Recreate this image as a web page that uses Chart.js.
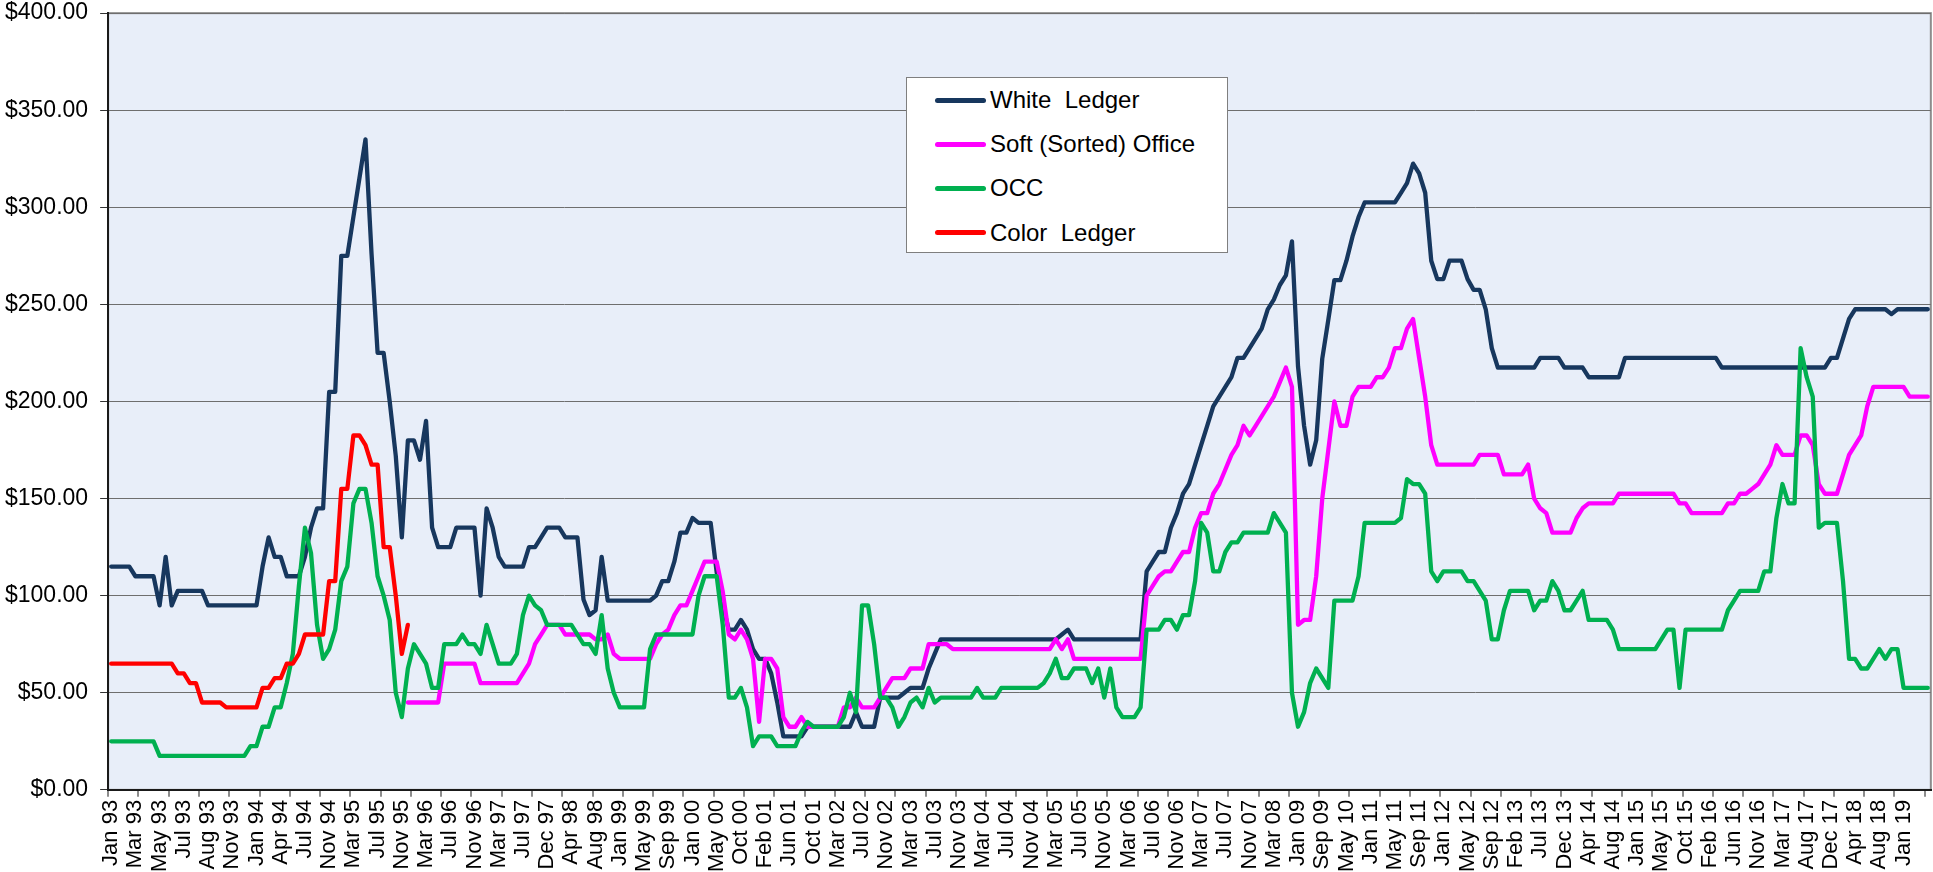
<!DOCTYPE html>
<html>
<head>
<meta charset="utf-8">
<title>Recovered paper prices</title>
<script src="https://cdn.jsdelivr.net/npm/chart.js@4.4.0/dist/chart.umd.min.js"></script>
<style>
  html, body { margin: 0; padding: 0; background: #fff; }
  #wrap { position: relative; width: 1933px; height: 872px; }
  #chart { display: block; }
  #legend {
    position: absolute; left: 906px; top: 77px; width: 320px; height: 174px;
    background: #fff; border: 1px solid #7f7f7f;
    font-family: 'Liberation Sans', Arial, sans-serif; font-size: 24px; color: #000;
  }
  .item { position: absolute; left: 28px; height: 26px; display: flex; align-items: center; white-space: pre; }
  .swatch { width: 51px; height: 5px; border-radius: 3px; margin-right: 4px; }
</style>
</head>
<body>
<div id="wrap">
  <canvas id="chart" width="1933" height="872"></canvas>
  <div id="legend"></div>
</div>
<script>
// category labels shown on the x axis (one every 4 data points)
const xLabels = [
  'Jan 93', 'Mar 93', 'May 93', 'Jul 93', 'Aug 93', 'Nov 93', 'Jan 94', 'Apr 94', 'Jul 94', 'Nov 94',
  'Mar 95', 'Jul 95', 'Nov 95', 'Mar 96', 'Jul 96', 'Nov 96', 'Mar 97', 'Jul 97', 'Dec 97', 'Apr 98',
  'Aug 98', 'Jan 99', 'May 99', 'Sep 99', 'Jan 00', 'May 00', 'Oct 00', 'Feb 01', 'Jun 01', 'Oct 01',
  'Mar 02', 'Jul 02', 'Nov 02', 'Mar 03', 'Jul 03', 'Nov 03', 'Mar 04', 'Jul 04', 'Nov 04', 'Mar 05',
  'Jul 05', 'Nov 05', 'Mar 06', 'Jul 06', 'Nov 06', 'Mar 07', 'Jul 07', 'Nov 07', 'Mar 08', 'Jan 09',
  'Sep 09', 'May 10', 'Jan 11', 'May 11', 'Sep 11', 'Jan 12', 'May 12', 'Sep 12', 'Feb 13', 'Jul 13',
  'Dec 13', 'Apr 14', 'Aug 14', 'Jan 15', 'May 15', 'Oct 15', 'Feb 16', 'Jun 16', 'Nov 16', 'Mar 17',
  'Aug 17', 'Dec 17', 'Apr 18', 'Aug 18', 'Jan 19'
];

const whiteLedger = [
  115, 115, 115, 115, 110, 110, 110, 110, 95, 120,
  95, 102.5, 102.5, 102.5, 102.5, 102.5, 95, 95, 95, 95,
  95, 95, 95, 95, 95, 115, 130, 120, 120, 110,
  110, 110, 120, 135, 145, 145, 205, 205, 275, 275,
  295, 315, 335, 276, 225, 225, 200, 172, 130, 180,
  180, 170, 190, 135, 125, 125, 125, 135, 135, 135,
  135, 100, 145, 135, 120, 115, 115, 115, 115, 125,
  125, 130, 135, 135, 135, 130, 130, 130, 98, 90,
  92.5, 120, 97.5, 97.5, 97.5, 97.5, 97.5, 97.5, 97.5, 97.5,
  100, 107.5, 107.5, 117.5, 132.5, 132.5, 140, 137.5, 137.5, 137.5,
  112, 95, 82.5, 82.5, 87.5, 82.5, 72.5, 67.5, 67.5, 60,
  45, 27.5, 27.5, 27.5, 27.5, 32.5, 32.5, 32.5, 32.5, 32.5,
  32.5, 32.5, 32.5, 40, 32.5, 32.5, 32.5, 47.5, 47.5, 47.5,
  47.5, 50, 52.5, 52.5, 52.5, 62.5, 70, 77.5, 77.5, 77.5,
  77.5, 77.5, 77.5, 77.5, 77.5, 77.5, 77.5, 77.5, 77.5, 77.5,
  77.5, 77.5, 77.5, 77.5, 77.5, 77.5, 77.5, 80, 82.5, 77.5,
  77.5, 77.5, 77.5, 77.5, 77.5, 77.5, 77.5, 77.5, 77.5, 77.5,
  77.5, 112.5, 117.5, 122.5, 122.5, 135, 142.5, 152.5, 157.5, 167.5,
  177.5, 187.5, 197.5, 202.5, 207.5, 212.5, 222.5, 222.5, 227.5, 232.5,
  237.5, 247.5, 252.5, 260, 265, 282.5, 218, 187.5, 167.5, 180,
  222, 242, 262.5, 262.5, 272.5, 285, 295, 302.5, 302.5, 302.5,
  302.5, 302.5, 302.5, 307.5, 312.5, 322.5, 317.5, 307.5, 272.5, 263,
  263, 272.5, 272.5, 272.5, 263, 257.5, 257.5, 247.5, 227.5, 217.5,
  217.5, 217.5, 217.5, 217.5, 217.5, 217.5, 222.5, 222.5, 222.5, 222.5,
  217.5, 217.5, 217.5, 217.5, 212.5, 212.5, 212.5, 212.5, 212.5, 212.5,
  222.5, 222.5, 222.5, 222.5, 222.5, 222.5, 222.5, 222.5, 222.5, 222.5,
  222.5, 222.5, 222.5, 222.5, 222.5, 222.5, 217.5, 217.5, 217.5, 217.5,
  217.5, 217.5, 217.5, 217.5, 217.5, 217.5, 217.5, 217.5, 217.5, 217.5,
  217.5, 217.5, 217.5, 217.5, 222.5, 222.5, 232.5, 242.5, 247.5, 247.5,
  247.5, 247.5, 247.5, 247.5, 245, 247.5, 247.5, 247.5, 247.5, 247.5,
  247.5
];

// soft office starts later, at data point 49 (late 1995)
const softStart = 49;
const softOffice = [
  45,
  45, 45, 45, 45, 45, 65, 65, 65, 65, 65,
  65, 55, 55, 55, 55, 55, 55, 55, 60, 65,
  75, 80, 85, 85, 85, 80, 80, 80, 80, 80,
  77.5, 77.5, 80, 70, 67.5, 67.5, 67.5, 67.5, 67.5, 67.5,
  75, 80, 82.5, 90, 95, 95, 102.5, 110, 117.5, 117.5,
  117.5, 102, 80, 77.5, 82.5, 77.5, 67.5, 35, 67.5, 67.5,
  62.5, 37.5, 32.5, 32.5, 37.5, 32.5, 32.5, 32.5, 32.5, 32.5,
  32.5, 42.5, 42.5, 47.5, 42.5, 42.5, 42.5, 47.5, 52.5, 57.5,
  57.5, 57.5, 62.5, 62.5, 62.5, 75, 75, 75, 75, 72.5,
  72.5, 72.5, 72.5, 72.5, 72.5, 72.5, 72.5, 72.5, 72.5, 72.5,
  72.5, 72.5, 72.5, 72.5, 72.5, 72.5, 77.5, 72.5, 77.5, 67.5,
  67.5, 67.5, 67.5, 67.5, 67.5, 67.5, 67.5, 67.5, 67.5, 67.5,
  67.5, 100, 105, 110, 112.5, 112.5, 117.5, 122.5, 122.5, 135,
  142.5, 142.5, 152.5, 157.5, 165, 172.5, 177.5, 187.5, 182.5, 187.5,
  192.5, 197.5, 202.5, 210, 217.5, 207.5, 85, 87.5, 87.5, 110,
  150, 175, 200, 187.5, 187.5, 202.5, 207.5, 207.5, 207.5, 212.5,
  212.5, 217.5, 227.5, 227.5, 237.5, 242.5, 222.5, 202.5, 177.5, 167.5,
  167.5, 167.5, 167.5, 167.5, 167.5, 167.5, 172.5, 172.5, 172.5, 172.5,
  162.5, 162.5, 162.5, 162.5, 167.5, 150, 145, 142.5, 132.5, 132.5,
  132.5, 132.5, 140, 145, 147.5, 147.5, 147.5, 147.5, 147.5, 152.5,
  152.5, 152.5, 152.5, 152.5, 152.5, 152.5, 152.5, 152.5, 152.5, 147.5,
  147.5, 142.5, 142.5, 142.5, 142.5, 142.5, 142.5, 147.5, 147.5, 152.5,
  152.5, 155, 157.5, 162.5, 167.5, 177.5, 172.5, 172.5, 172.5, 182.5,
  182.5, 177.5, 157.5, 152.5, 152.5, 152.5, 162.5, 172.5, 177.5, 182.5,
  197.5, 207.5, 207.5, 207.5, 207.5, 207.5, 207.5, 202.5, 202.5, 202.5,
  202.5
];

const occ = [
  25, 25, 25, 25, 25, 25, 25, 25, 17.5, 17.5,
  17.5, 17.5, 17.5, 17.5, 17.5, 17.5, 17.5, 17.5, 17.5, 17.5,
  17.5, 17.5, 17.5, 22.5, 22.5, 32.5, 32.5, 42.5, 42.5, 55,
  70, 105, 135, 122, 85, 67.5, 72.5, 82.5, 107.5, 115,
  147.5, 155, 155, 137.5, 110, 100, 87.5, 50, 37.5, 62.5,
  75, 70, 65, 52.5, 52.5, 75, 75, 75, 80, 75,
  75, 70, 85, 75, 65, 65, 65, 70, 90, 100,
  95, 92.5, 85, 85, 85, 85, 85, 80, 75, 75,
  70, 90, 62.5, 50, 42.5, 42.5, 42.5, 42.5, 42.5, 72.5,
  80, 80, 80, 80, 80, 80, 80, 100, 110, 110,
  110, 85, 47.5, 47.5, 52.5, 42.5, 22.5, 27.5, 27.5, 27.5,
  22.5, 22.5, 22.5, 22.5, 30, 35, 32.5, 32.5, 32.5, 32.5,
  32.5, 37.5, 50, 40, 95, 95, 75, 47.5, 47.5, 42.5,
  32.5, 37.5, 45, 47.5, 42.5, 52.5, 45, 47.5, 47.5, 47.5,
  47.5, 47.5, 47.5, 52.5, 47.5, 47.5, 47.5, 52.5, 52.5, 52.5,
  52.5, 52.5, 52.5, 52.5, 55, 60, 67.5, 57.5, 57.5, 62.5,
  62.5, 62.5, 55, 62.5, 47.5, 62.5, 42.5, 37.5, 37.5, 37.5,
  42.5, 82.5, 82.5, 82.5, 87.5, 87.5, 82.5, 90, 90, 107.5,
  137.5, 132.5, 112.5, 112.5, 122.5, 127.5, 127.5, 132.5, 132.5, 132.5,
  132.5, 132.5, 142.5, 137.5, 132.5, 50, 32.5, 40, 55, 62.5,
  57.5, 52.5, 97.5, 97.5, 97.5, 97.5, 110, 137.5, 137.5, 137.5,
  137.5, 137.5, 137.5, 140, 160, 157.5, 157.5, 152.5, 112.5, 107.5,
  112.5, 112.5, 112.5, 112.5, 107.5, 107.5, 102.5, 97.5, 77.5, 77.5,
  92.5, 102.5, 102.5, 102.5, 102.5, 92.5, 97.5, 97.5, 107.5, 102.5,
  92.5, 92.5, 97.5, 102.5, 87.5, 87.5, 87.5, 87.5, 82.5, 72.5,
  72.5, 72.5, 72.5, 72.5, 72.5, 72.5, 77.5, 82.5, 82.5, 52.5,
  82.5, 82.5, 82.5, 82.5, 82.5, 82.5, 82.5, 92.5, 97.5, 102.5,
  102.5, 102.5, 102.5, 112.5, 112.5, 140, 157.5, 147.5, 147.5, 227.5,
  212.5, 202.5, 135, 137.5, 137.5, 137.5, 107.5, 67.5, 67.5, 62.5,
  62.5, 67.5, 72.5, 67.5, 72.5, 72.5, 52.5, 52.5, 52.5, 52.5,
  52.5
];

// color ledger only runs to late 1995
const colorLedger = [
  65, 65, 65, 65, 65, 65, 65, 65, 65, 65,
  65, 60, 60, 55, 55, 45, 45, 45, 45, 42.5,
  42.5, 42.5, 42.5, 42.5, 42.5, 52.5, 52.5, 57.5, 57.5, 65,
  65, 70, 80, 80, 80, 80, 107.5, 107.5, 155, 155,
  182.5, 182.5, 177.5, 167.5, 167.5, 125, 125, 100, 70, 85
];

const N = whiteLedger.length;
const labelEvery = 4;   // a label every 4th point
const tickEvery = 5;    // a tick mark every 5th point

Chart.defaults.font.family = "'Liberation Sans', Arial, sans-serif";
Chart.defaults.color = '#000';

function toPoints(values, start) {
  return values.map((v, i) => ({ x: (start || 0) + i, y: v }));
}

const plotBackground = {
  id: 'plotBackground',
  beforeDraw(chart) {
    const { ctx, chartArea } = chart;
    const w = chartArea.right - chartArea.left;
    const h = chartArea.bottom - chartArea.top;
    ctx.save();
    ctx.fillStyle = '#e8eef9';
    ctx.fillRect(chartArea.left, chartArea.top, w, h);
    ctx.strokeStyle = '#8c8c8c';
    ctx.lineWidth = 2;
    ctx.strokeRect(chartArea.left, chartArea.top, w, h);
    ctx.restore();
  }
};

const chart = new Chart(document.getElementById('chart'), {
  type: 'line',
  data: {
    datasets: [
      { label: 'White  Ledger', data: toPoints(whiteLedger), borderColor: '#17375e', order: 4 },
      { label: 'Soft (Sorted) Office', data: toPoints(softOffice, softStart), borderColor: '#ff00ff', order: 3 },
      { label: 'OCC', data: toPoints(occ), borderColor: '#00b050', order: 2 },
      { label: 'Color  Ledger', data: toPoints(colorLedger), borderColor: '#ff0000', order: 1 }
    ]
  },
  options: {
    responsive: false,
    animation: false,
    devicePixelRatio: 1,
    layout: { padding: { left: -7, right: 0, top: 0, bottom: -3 } },
    elements: {
      point: { radius: 0 },
      line: { borderWidth: 4.3, tension: 0, borderJoinStyle: 'round', borderCapStyle: 'round', fill: false }
    },
    plugins: {
      legend: { display: false },
      tooltip: { enabled: false }
    },
    scales: {
      x: {
        type: 'linear',
        min: -0.5,
        max: N - 0.5,
        bounds: 'data',
        afterBuildTicks: (scale) => {
          const marks = [];
          for (let b = 0; b < N; b += tickEvery) marks.push({ value: b - 0.5 });
          scale.ticks = marks;
        },
        ticks: { display: false },
        grid: { drawOnChartArea: false, drawTicks: true, tickLength: 7, color: '#8c8c8c', lineWidth: 2 },
        border: { display: true, color: '#1a1a1a', width: 2 }
      },
      xl: {
        type: 'linear',
        position: 'bottom',
        weight: 1,
        min: -0.5,
        max: N - 0.5,
        bounds: 'data',
        afterBuildTicks: (scale) => {
          scale.ticks = xLabels.map((_, j) => ({ value: j * labelEvery }));
        },
        ticks: {
          autoSkip: false,
          minRotation: 90,
          maxRotation: 90,
          padding: 3,
          font: { size: 22 },
          color: '#000',
          callback: (value, index) => xLabels[index]
        },
        grid: { display: false, drawTicks: false },
        border: { display: false }
      },
      y: {
        min: 0,
        max: 400,
        ticks: {
          stepSize: 50,
          padding: 12,
          font: { size: 23, lineHeight: 0.1 },
          color: '#000',
          callback: (value) => '$' + value.toFixed(2)
        },
        grid: { color: '#6e6e6e', lineWidth: 1, tickLength: 8, tickColor: '#333' },
        border: { display: true, color: '#1a1a1a', width: 2 }
      }
    }
  },
  plugins: [plotBackground]
});

// legend box drawn inside the plot, like the original
const legendBox = document.getElementById('legend');
chart.data.datasets.forEach((ds, k) => {
  const row = document.createElement('div');
  row.className = 'item';
  row.style.top = (9 + k * 44.2) + 'px';
  const sw = document.createElement('span');
  sw.className = 'swatch';
  sw.style.background = ds.borderColor;
  const txt = document.createElement('span');
  txt.textContent = ds.label;
  row.appendChild(sw);
  row.appendChild(txt);
  legendBox.appendChild(row);
});
</script>
</body>
</html>
